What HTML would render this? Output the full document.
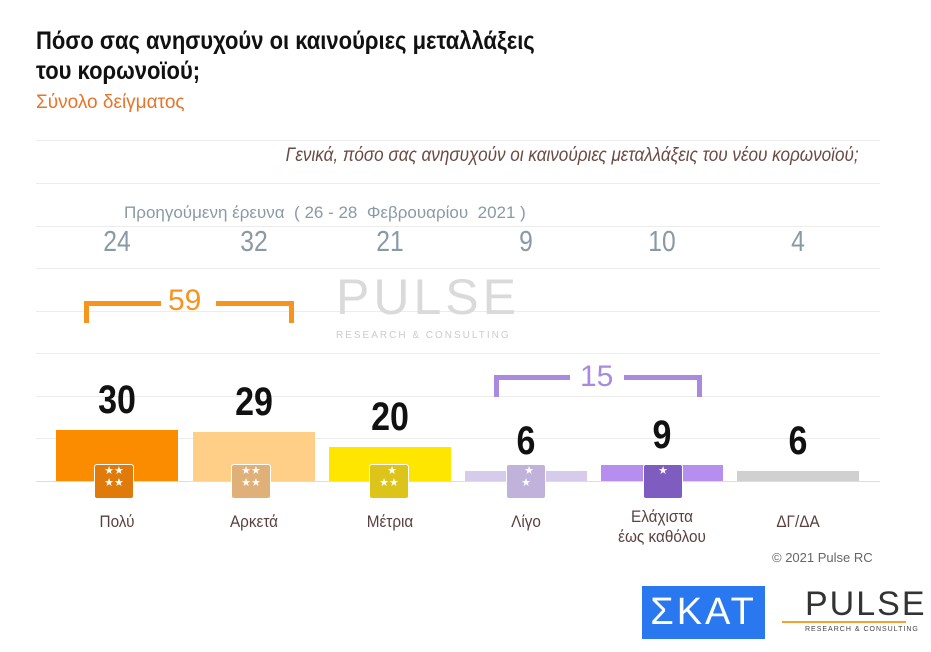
<!DOCTYPE html>
<html><head><meta charset="utf-8"><style>
body{margin:0;width:931px;height:652px;background:#fff;position:relative;overflow:hidden;font-family:"Liberation Sans",sans-serif}
.a{position:absolute}
.g{position:absolute;left:36px;width:844px;height:1px;background:#ececec}
.bar{position:absolute;width:122px}
.v{position:absolute;width:136px;text-align:center;font-weight:bold;font-size:40px;color:#111;transform:scaleX(0.85)}
.p{position:absolute;width:136px;text-align:center;font-size:29px;color:#8a9aa5;transform:scaleX(0.85)}
.l{position:absolute;width:136px;text-align:center;font-size:17px;color:#5a4040;line-height:20px;transform:scaleX(0.9)}
.ic{position:absolute;width:38px;height:33px;border:1px solid #fff;border-radius:3px;color:#fff;font-size:11px;line-height:12px;text-align:center}
</style></head><body>
<div class="a" style="left:36px;top:26px;font-size:25px;font-weight:bold;line-height:30px;color:#111;transform:scaleX(0.88);transform-origin:left">Πόσο σας ανησυχούν οι καινούριες μεταλλάξεις<br>του κορωνοϊού;</div>
<div class="a" style="left:36px;top:92px;font-size:19px;color:#e8742a">Σύνολο δείγματος</div>
<div class="g" style="top:140px"></div><div class="g" style="top:183px"></div><div class="g" style="top:226px"></div><div class="g" style="top:268px"></div><div class="g" style="top:311px"></div><div class="g" style="top:353px"></div><div class="g" style="top:396px"></div><div class="g" style="top:438px"></div><div class="g" style="top:481px;background:#ddd"></div>
<div class="a" style="right:72px;top:145px;font-size:19px;font-style:italic;color:#6b4a44;transform:scaleX(0.9);transform-origin:right">Γενικά, πόσο σας ανησυχούν οι καινούριες μεταλλάξεις του νέου κορωνοϊού;</div>
<div class="a" style="left:124px;top:203px;font-size:17px;color:#8a9aa5">Προηγούμενη έρευνα &nbsp;( 26 - 28 &nbsp;Φεβρουαρίου &nbsp;2021 )</div>
<div class="p" style="left:49px;top:226px">24</div><div class="p" style="left:186px;top:226px">32</div><div class="p" style="left:322px;top:226px">21</div><div class="p" style="left:458px;top:226px">9</div><div class="p" style="left:594px;top:226px">10</div><div class="p" style="left:730px;top:226px">4</div>
<div class="a" style="left:336px;top:268px;font-size:50px;color:#dadada;letter-spacing:4px">PULSE</div>
<div class="a" style="left:336px;top:330px;font-size:10px;color:#ccc;letter-spacing:2px">RESEARCH &amp; CONSULTING</div>
<div class="a" style="left:84px;top:301px;width:21px;height:5px;background:#f7941d"></div>
<div class="a" style="left:84px;top:301px;width:5px;height:22px;background:#f7941d"></div>
<div class="a" style="left:105px;top:301px;width:56px;height:5px;background:#f7941d"></div>
<div class="a" style="left:216px;top:301px;width:78px;height:5px;background:#f7941d"></div>
<div class="a" style="left:289px;top:301px;width:5px;height:22px;background:#f7941d"></div>
<div class="a" style="left:168px;top:284px;font-size:30px;color:#f7941d">59</div>
<div class="a" style="left:494px;top:375px;width:76px;height:5px;background:#a98ae0"></div>
<div class="a" style="left:494px;top:375px;width:5px;height:22px;background:#a98ae0"></div>
<div class="a" style="left:624px;top:375px;width:78px;height:5px;background:#a98ae0"></div>
<div class="a" style="left:697px;top:375px;width:5px;height:22px;background:#a98ae0"></div>
<div class="a" style="left:580px;top:360px;font-size:30px;color:#a98ae0">15</div>
<div class="bar" style="left:56px;top:430px;height:51px;background:#fb8c00"></div>
<div class="bar" style="left:193px;top:432px;height:49px;background:#ffcf88"></div>
<div class="bar" style="left:329px;top:447px;height:34px;background:#ffe600"></div>
<div class="bar" style="left:465px;top:471px;height:10px;background:#d6cbea"></div>
<div class="bar" style="left:601px;top:465px;height:16px;background:#b58ef0"></div>
<div class="bar" style="left:737px;top:471px;height:10px;background:#d0d0d0"></div>
<div class="ic" style="left:94px;top:464px;background:#e07a0a">★★<br>★★</div>
<div class="ic" style="left:231px;top:464px;background:#dfb078">★★<br>★★</div>
<div class="ic" style="left:369px;top:464px;background:#dcc41a">&nbsp;&nbsp;★<br>★★</div>
<div class="ic" style="left:506px;top:464px;background:#c0b2da">&nbsp;&nbsp;★<br>★</div>
<div class="ic" style="left:643px;top:464px;background:#7e5cc0">★</div>
<div class="v" style="left:49px;top:378px">30</div><div class="v" style="left:186px;top:380px">29</div><div class="v" style="left:322px;top:395px">20</div><div class="v" style="left:458px;top:419px">6</div><div class="v" style="left:594px;top:413px">9</div><div class="v" style="left:730px;top:419px">6</div>
<div class="l" style="left:49px;top:512px">Πολύ</div><div class="l" style="left:186px;top:512px">Αρκετά</div><div class="l" style="left:322px;top:512px">Μέτρια</div><div class="l" style="left:458px;top:512px">Λίγο</div><div class="l" style="left:594px;top:507px">Ελάχιστα<br>έως καθόλου</div><div class="l" style="left:730px;top:512px">ΔΓ/ΔΑ</div>
<div class="a" style="left:772px;top:550px;font-size:13px;color:#666">© 2021 Pulse RC</div>
<div class="a" style="left:642px;top:586px;width:123px;height:53px;background:#2a78f0;color:#fff;font-size:38px;line-height:53px;text-align:center;letter-spacing:3px">ΣΚΑΤ</div>
<div class="a" style="left:805px;top:586px;font-size:34px;color:#333;letter-spacing:2px;line-height:36px">PULSE</div>
<div class="a" style="left:805px;top:626px;font-size:7px;color:#444;letter-spacing:1px">RESEARCH &amp; CONSULTING</div>
<div class="a" style="left:782px;top:621px;width:124px;height:2px;background:#f7a030"></div>
</body></html>
